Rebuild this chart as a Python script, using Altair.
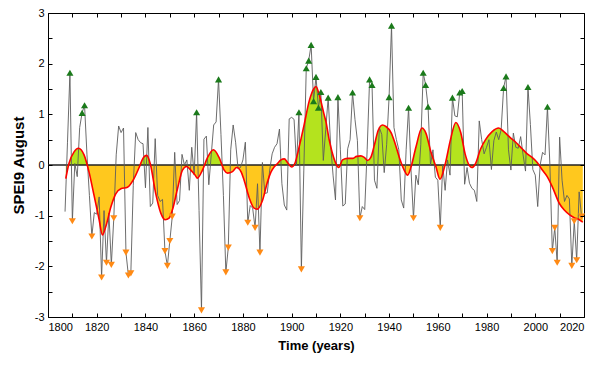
import altair as alt
import pandas as pd

# ---------------- data ----------------
years = list(range(1807, 2020))
spei = [
    -0.92, 0.45, 1.82, -1.11, 0.03, -0.23, 0.74, 1.03, 1.18, 0.2,
    -0.6, -1.41, -0.94, -0.97, -0.63, -2.22, -0.9, -1.93, -0.95, -1.97,
    -1.05, 0.2, 0.77, 0.64, 0.73, -1.73, -2.18, -2.14, -0.4, 0.64,
    0.5, 0.44, 0.42, -0.45, 0.74, -0.82, -0.75, 0.52, -0.6, -0.72,
    -0.68, -1.70, -1.99, -1.5, -1.02, 0.25, -0.78, -0.7, 0.21, 0.0,
    0.1, -0.5, 0.35, -0.2, 1.04, -0.9, -2.87, 0.51, 0.57, -0.39,
    0.2, 0.79, 0.85, 1.69, 0.6, -0.6, -2.12, -1.63, 0.3, 0.79,
    0.45, -0.07, -0.05, 0.1, 0.45, -1.14, -0.8, -0.85, -1.24, -0.37,
    -1.73, 0.05, -0.56, -0.55, -0.1, 0.22, 0.35, 0.42, 0.71, -0.37,
    -0.79, -0.89, 0.91, 0.94, 0.9, 0.0, 1.04, -2.06, -0.1, 1.91,
    2.06, 2.37, 1.26, 1.74, 1.13, 1.44, 0.09, 0.7, 1.33, 0.4,
    -0.2, -0.69, 1.34, 0.3, -0.81, -0.77, 0.32, 0.5, 1.43, 0.9,
    0.48, -1.05, -0.82, -0.88, 0.3, 1.69, 1.58, -0.3, -0.46, 0.74,
    0.6, -0.15, 0.4, 1.34, 2.75, 0.74, 0.5, 0.3, -0.69, -0.85,
    0.3, 1.13, -0.1, -1.05, -0.2, -0.39, 0.4, 1.82, 1.58, 1.15,
    0.0, 0.3, -0.24, -0.3, -1.24, 0.0, -0.5, 0.1, -0.2, 1.33,
    0.97, 0.95, 1.43, 1.46, -0.38, -0.05, -0.36, -0.46, -0.5, -0.72,
    0.87, 0.5, 0.22, 0.35, 0.5, -0.09, 0.48, 0.65, 0.5, 0.7,
    1.52, 1.75, 0.3, -0.1, 0.63, 0.35, 0.33, 0.56, 0.2, -0.12,
    1.54, 0.8, -0.09, -0.2, -0.82, 0.0, 0.25, 0.2, 1.15, 0.0,
    -1.70, -1.24, -1.93, 0.55, -0.3, -0.72, -0.6, -0.67, -1.99, -1.11,
    -1.88, -0.53, -1.02,
]

smooth_years = [
    1807.3, 1808.6, 1810.7, 1812.5, 1814.8, 1816.9, 1818.9, 1821.0, 1822.3, 1823.7,
    1825.8, 1827.8, 1829.9, 1832.6, 1835.3, 1837.4, 1839.2, 1840.5, 1842.0, 1844.2,
    1846.3, 1848.1, 1849.7, 1851.1, 1853.2, 1855.2, 1856.9, 1858.6, 1860.4, 1861.3,
    1863.4, 1865.5, 1867.9, 1870.2, 1872.3, 1873.7, 1875.7, 1877.4, 1879.2, 1880.5,
    1882.6, 1884.6, 1886.0, 1888.1, 1890.1, 1891.5, 1892.8, 1894.2, 1895.6, 1897.0,
    1898.3, 1900.0, 1901.3, 1903.1, 1905.2, 1907.2, 1909.3, 1910.0, 1911.3, 1913.3,
    1914.1, 1915.4, 1916.1, 1917.9, 1919.3, 1920.9, 1923.0, 1925.0, 1926.7, 1928.4,
    1929.8, 1931.2, 1932.5, 1934.0, 1935.5, 1937.3, 1938.7, 1940.8, 1942.1, 1944.2,
    1946.2, 1947.6, 1949.0, 1951.0, 1953.5, 1955.1, 1957.2, 1959.2, 1960.9, 1963.1,
    1965.2, 1967.4, 1969.4, 1971.2, 1972.6, 1974.0, 1975.4, 1977.5, 1979.6, 1982.3,
    1985.0, 1987.1, 1989.5, 1992.6, 1994.6, 1996.7, 1998.7, 2000.8, 2002.9, 2004.9,
    2007.0, 2009.9, 2011.9, 2014.0, 2016.0, 2018.1, 2019.5,
]
smooth_values = [
    -0.27, 0.03, 0.26, 0.33, 0.2, -0.15, -0.6, -1.08, -1.38, -1.22,
    -0.83, -0.57, -0.47, -0.44, -0.27, -0.05, 0.15, 0.19, 0.02, -0.56,
    -0.95, -1.08, -1.05, -0.88, -0.46, -0.1, -0.03, -0.1, -0.2, -0.26,
    -0.1, 0.15, 0.30, 0.15, -0.1, -0.16, -0.13, -0.05, -0.13, -0.3,
    -0.65, -0.85, -0.87, -0.69, -0.33, -0.14, -0.04, 0.03, 0.1, 0.12,
    0.05, -0.04, 0.03, 0.36, 0.81, 1.26, 1.52, 1.55, 1.39, 1.0,
    0.85, 0.5, 0.35, 0.06, -0.05, 0.1, 0.13, 0.13, 0.17, 0.18,
    0.15, 0.09, 0.15, 0.4, 0.68, 0.79, 0.76, 0.64, 0.48, 0.15,
    -0.1, -0.2, -0.04, 0.35, 0.73, 0.63, 0.25, -0.03, -0.28, 0.03,
    0.5, 0.84, 0.64, 0.22, 0.02, -0.05, 0.02, 0.31, 0.5, 0.66,
    0.73, 0.66, 0.55, 0.42, 0.32, 0.22, 0.15, 0.05, -0.1, -0.23,
    -0.43, -0.76, -0.89, -0.98, -1.04, -1.08, -1.13,
]

x_ticks = list(range(1800, 2021, 10))
y_ticks = [-3, -2.5, -2, -1.5, -1, -0.5, 0, 0.5, 1, 1.5, 2, 2.5, 3]
zero_level = [0]

GREEN_FILL = "#B4E31E"
ORANGE_FILL = "#FFC81E"
UP_COLOR = "#1B7A1B"
DOWN_COLOR = "#FF8A14"
FONT = "Liberation Sans"

# ---------------- chart ----------------
df = pd.DataFrame({"year": years, "spei": spei})
sm = pd.DataFrame({"year": smooth_years, "s": smooth_values})
zdf = pd.DataFrame({"z": zero_level})

xs = alt.Scale(domain=[1800, 2020], nice=False, zero=False)
ys = alt.Scale(domain=[-3, 3], nice=False, zero=False)

smax = max(smooth_values)
smin = min(smooth_values)
frac = smax / (smax - smin)
grad = alt.Gradient(
    gradient="linear", x1=0, y1=0, x2=0, y2=1,
    stops=[
        alt.GradientStop(offset=0, color=GREEN_FILL),
        alt.GradientStop(offset=frac, color=GREEN_FILL),
        alt.GradientStop(offset=frac, color=ORANGE_FILL),
        alt.GradientStop(offset=1, color=ORANGE_FILL),
    ],
)

TICK = 4
common = dict(domain=False, grid=False, tickColor="black", tickWidth=1,
              tickSize=TICK, offset=-TICK, zindex=1,
              labelFont=FONT, labelColor="black", titleFont=FONT,
              titleColor="black", titleFontWeight="bold")

x_bottom = alt.Axis(orient="bottom", values=x_ticks,
                    labelExpr="datum.value % 20 == 0 ? datum.value : ''",
                    labelFontSize=11, labelPadding=4, title="Time (years)",
                    titleFontSize=13, titlePadding=7, **common)
y_left = alt.Axis(orient="left", values=y_ticks,
                  labelExpr="datum.value % 1 == 0 ? '' + datum.value : ''",
                  labelFontSize=11, labelPadding=4, title="SPEI9 August",
                  titleFontSize=15, titlePadding=8, **common)
x_top = alt.Axis(orient="top", values=x_ticks, labels=False, title=None, **common)
y_right = alt.Axis(orient="right", values=y_ticks, labels=False, title=None, **common)

area = alt.Chart(sm).mark_area(interpolate="monotone", color=grad, opacity=1).encode(
    x=alt.X("year:Q", scale=xs, axis=x_bottom),
    y=alt.Y("s:Q", scale=ys, axis=y_left),
    y2=alt.datum(0),
)

zero = alt.Chart(zdf).mark_rule(color="#222222", strokeWidth=1.6).encode(
    y=alt.Y("z:Q", scale=ys, axis=None),
)

gray = alt.Chart(df).mark_line(color="#5c5c5c", strokeWidth=0.9).encode(
    x=alt.X("year:Q", scale=xs, axis=x_top),
    y=alt.Y("spei:Q", scale=ys, axis=y_right),
)

red = alt.Chart(sm).mark_line(color="#FF0000", strokeWidth=1.6, interpolate="monotone").encode(
    x=alt.X("year:Q", scale=xs, axis=None),
    y=alt.Y("s:Q", scale=ys, axis=None),
)

up = alt.Chart(df).transform_filter("datum.spei >= 1").mark_point(
    shape="triangle-up", filled=True, size=50, color=UP_COLOR, opacity=1
).encode(
    x=alt.X("year:Q", scale=xs, axis=None),
    y=alt.Y("spei:Q", scale=ys, axis=None),
)

down = alt.Chart(df).transform_filter("datum.spei <= -1").mark_point(
    shape="triangle-down", filled=True, size=50, color=DOWN_COLOR, opacity=1
).encode(
    x=alt.X("year:Q", scale=xs, axis=None),
    y=alt.Y("spei:Q", scale=ys, axis=None),
)

chart = alt.layer(area, zero, gray, red, up, down).resolve_axis(
    x="independent", y="independent"
).properties(
    width=536, height=304,
    autosize=alt.AutoSizeParams(type="none"),
    padding={"left": 40, "top": 5, "right": 8, "bottom": 40},
    background="white",
).configure_view(stroke="black", strokeWidth=1)

chart.save("out.html", embed_options={"renderer": "svg", "actions": False})
